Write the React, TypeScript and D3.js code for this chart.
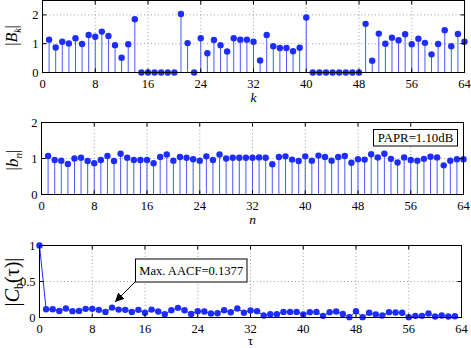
import React from "react";
import * as d3 from "d3";

// |B_k|, k = 1..64
const bkValues = [
  1.14, 0.87, 1.07, 1.01, 1.19, 0.99, 1.30, 1.24, 1.42, 1.27, 0.95, 0.51, 0.98, 1.85, 0, 0,
  0, 0, 0, 0, 2.03, 1.02, 0, 1.19, 0.67, 1.13, 0.95, 0.73, 1.19, 1.14, 1.14, 1.07,
  0.42, 1.30, 0.91, 0.85, 0.85, 0.74, 0.86, 1.91, 0, 0, 0, 0, 0, 0, 0, 0,
  1.69, 0.41, 1.35, 1.00, 1.21, 1.12, 1.33, 0.98, 1.17, 1.03, 0.63, 0.99, 1.47, 0.91, 1.34, 1.07,
];
// |b_n|, n = 1..64
const bnValues = [
  1.07, 0.96, 0.94, 0.85, 1.00, 1.02, 0.93, 0.87, 0.96, 1.07, 0.93, 1.13, 1.02, 0.96, 0.96, 0.96,
  0.87, 1.04, 1.11, 0.94, 1.04, 1.02, 0.98, 0.94, 1.06, 0.96, 1.11, 1.00, 1.02, 1.02, 1.02, 1.02,
  1.03, 1.02, 0.84, 1.04, 1.06, 0.97, 0.93, 1.06, 0.94, 1.08, 1.04, 0.94, 1.04, 1.07, 0.88, 0.98,
  0.97, 1.12, 1.03, 1.13, 0.99, 0.89, 1.03, 0.96, 0.94, 0.99, 1.05, 1.03, 0.81, 0.94, 0.98, 0.98,
];
// |C_b(tau)|, tau = 0..63
const acfValues = [
  1.0, 0.115, 0.115, 0.092, 0.124, 0.088, 0.092, 0.12, 0.12, 0.106, 0.078, 0.1377, 0.11, 0.106, 0.078, 0.106,
  0.065, 0.11, 0.083, 0.046, 0.10, 0.134, 0.10, 0.05, 0.088, 0.083, 0.055, 0.06, 0.10, 0.072, 0.126, 0.065,
  0.097, 0.088, 0.028, 0.046, 0.046, 0.078, 0.078, 0.078, 0.041, 0.074, 0.078, 0.023, 0.074, 0.083, 0.05, 0.005,
  0.088, 0.005, 0.065, 0.041, 0.028, 0.074, 0.069, 0.065, 0.005, 0.023, 0.023, 0.055, 0.014, 0.028, 0.014, 0.018,
];
const xTicks = [0, 8, 16, 24, 32, 40, 48, 56, 64];
const yTicks1 = [0, 1, 2];
const yTicks2 = [0, 1, 2];
const yTicks3 = [0, 0.5, 1];
const paprText = "PAPR=1.10dB";
const aacfText = "Max. AACF=0.1377";

const BLUE = "#1e2dff";
const STEM = "#4a5aff";
const FONT = "'Liberation Serif', 'Times New Roman', serif";
const TICKFS = 12.5;

type PanelProps = {
  left: number; right: number; top: number; bottom: number;
  yMax: number; yTicks: number[];
  children?: (x: d3.ScaleLinear<number, number>, y: d3.ScaleLinear<number, number>) => React.ReactNode;
  xLabel: React.ReactNode;
  xLabelOffset?: number;
};

function Panel({ left, right, top, bottom, yMax, yTicks, children, xLabel, xLabelOffset = 29.8 }: PanelProps) {
  const x = d3.scaleLinear().domain([0, 64]).range([left, right]);
  const y = d3.scaleLinear().domain([0, yMax]).range([bottom, top]);
  const tl = 4;
  return (
    <g>
      {/* grid */}
      {xTicks.filter((t) => t > 0 && t < 64).map((t) => (
        <line key={"gx" + t} x1={x(t)} x2={x(t)} y1={top} y2={bottom} stroke="#8a8a8a" strokeWidth={0.8} strokeDasharray="1,2.5" />
      ))}
      {yTicks.filter((t) => t > 0 && t < yMax).map((t) => (
        <line key={"gy" + t} x1={left} x2={right} y1={y(t)} y2={y(t)} stroke="#8a8a8a" strokeWidth={0.8} strokeDasharray="1,2.5" />
      ))}
      {children && children(x, y)}
      {/* box */}
      <rect x={left} y={top} width={right - left} height={bottom - top} fill="none" stroke="#000" strokeWidth={1} />
      {xTicks.map((t) => (
        <g key={"xt" + t}>
          <line x1={x(t)} x2={x(t)} y1={bottom} y2={bottom - tl} stroke="#000" />
          <line x1={x(t)} x2={x(t)} y1={top} y2={top + tl} stroke="#000" />
          <text x={x(t)} y={bottom + 15.8} textAnchor="middle" fontFamily={FONT} fontSize={TICKFS}>{t}</text>
        </g>
      ))}
      {yTicks.map((t) => (
        <g key={"yt" + t}>
          <line x1={left} x2={left + tl} y1={y(t)} y2={y(t)} stroke="#000" />
          <line x1={right} x2={right - tl} y1={y(t)} y2={y(t)} stroke="#000" />
          <text x={left - 4} y={y(t) + 4.3} textAnchor="end" fontFamily={FONT} fontSize={TICKFS}>{t}</text>
        </g>
      ))}
      <text x={(left + right) / 2} y={bottom + xLabelOffset} textAnchor="middle" fontFamily={FONT} fontSize={13.5}>{xLabel}</text>
    </g>
  );
}

function Stems({ x, y, values, start }: { x: any; y: any; values: number[]; start: number }) {
  return (
    <g>
      {values.map((v, i) => (
        <line key={"s" + i} x1={x(i + start)} x2={x(i + start)} y1={y(0)} y2={y(v)} stroke={STEM} strokeWidth={1} />
      ))}
      {values.map((v, i) => (
        <circle key={"c" + i} cx={x(i + start)} cy={y(v)} r={3.2} fill={BLUE} />
      ))}
    </g>
  );
}

export default function App() {
  return (
    <svg width={471} height={348} style={{ position: "absolute", left: 0, top: 0, background: "#fff" }}>
      <defs>
        <marker id="ah" viewBox="0 0 10 10" refX="10" refY="5" markerWidth="9" markerHeight="9" markerUnits="userSpaceOnUse" orient="auto">
          <path d="M0,0 L10,5 L0,10 Z" fill="#000" />
        </marker>
      </defs>
      {/* Panel 1 */}
      <Panel left={42.5} right={464.5} top={0.5} bottom={72.5} yMax={2.5} yTicks={yTicks1}
        xLabel={<tspan fontStyle="italic">k</tspan>}>
        {(x, y) => <Stems x={x} y={y} values={bkValues} start={1} />}
      </Panel>
      <text transform="translate(16.5,35.5) rotate(-90)" textAnchor="middle" fontFamily={FONT} fontSize={16}>
        |<tspan fontStyle="italic">B</tspan><tspan fontStyle="italic" fontSize={10} dy={4}>k</tspan><tspan dy={-4}>|</tspan>
      </text>

      {/* Panel 2 */}
      <Panel left={41.5} right={463.5} top={122.5} bottom={194.5} yMax={2} yTicks={yTicks2}
        xLabel={<tspan fontStyle="italic">n</tspan>}>
        {(x, y) => (
          <g>
            <Stems x={x} y={y} values={bnValues} start={1} />
            <rect x={373.5} y={129.5} width={84} height={16.5} fill="#fff" stroke="#000" strokeWidth={1} />
            <text x={415.5} y={142} textAnchor="middle" fontFamily={FONT} fontSize={12.8}>{paprText}</text>
          </g>
        )}
      </Panel>
      <text transform="translate(17.5,160) rotate(-90)" textAnchor="middle" fontFamily={FONT} fontSize={17}>
        |<tspan fontStyle="italic">b</tspan><tspan fontStyle="italic" fontSize={11} dy={4}>n</tspan><tspan dy={-4}>|</tspan>
      </text>

      {/* Panel 3 */}
      <Panel left={39.5} right={461.5} top={245.5} bottom={317.5} yMax={1} yTicks={yTicks3}
        xLabel="τ" xLabelOffset={27.3}>
        {(x, y) => {
          const line = d3.line<number>().x((_, i) => x(i)).y((v) => y(v));
          return (
            <g>
              <path d={line(acfValues) || ""} fill="none" stroke={BLUE} strokeWidth={1} />
              {acfValues.map((v, i) => (
                <circle key={"a" + i} cx={x(i)} cy={y(v)} r={3.2} fill={BLUE} />
              ))}
              <line x1={136} y1={281} x2={115} y2={302} stroke="#000" strokeWidth={1} markerEnd="url(#ah)" />
              <rect x={135.5} y={259} width={111.5} height={23} fill="#fff" stroke="#000" strokeWidth={1} />
              <text x={191.2} y={275} textAnchor="middle" fontFamily={FONT} fontSize={12.6}>{aacfText}</text>
            </g>
          );
        }}
      </Panel>
      <text transform="translate(19,282) rotate(-90)" textAnchor="middle" fontFamily={FONT} fontSize={20}>
        |<tspan fontStyle="italic">C</tspan><tspan fontSize={12} dy={4}>b</tspan><tspan dy={-4}>(</tspan><tspan>τ</tspan><tspan>)</tspan>|
      </text>
    </svg>
  );
}
